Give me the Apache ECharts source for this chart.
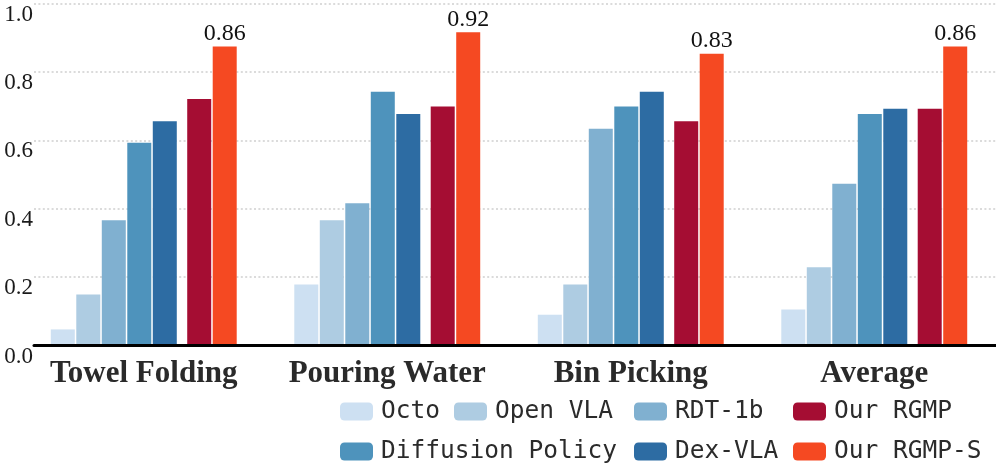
<!DOCTYPE html>
<html>
<head>
<meta charset="utf-8">
<script src="https://cdn.jsdelivr.net/npm/echarts@6/dist/echarts.min.js"></script>
<style>
html,body{margin:0;padding:0;background:#fff;}
#chart{width:996px;height:469px;}
</style>
</head>
<body>
<div id="chart"></div>
<script>
// ---- data ----
const categories = ['Towel Folding', 'Pouring Water', 'Bin Picking', 'Average'];
const octo = [0.047, 0.178, 0.090, 0.105];
const openVLA = [0.149, 0.366, 0.178, 0.229];
const rdt1b = [0.366, 0.416, 0.634, 0.473];
const diffusionPolicy = [0.593, 0.742, 0.699, 0.677];
const dexVLA = [0.656, 0.677, 0.742, 0.692];
const ourRGMP = [0.721, 0.699, 0.656, 0.692];
const ourRGMPS = [0.874, 0.916, 0.853, 0.874];
const rgmpsLabels = ['0.86', '0.92', '0.83', '0.86'];
const yTicks = [0, 0.2, 0.4, 0.6, 0.8, 1.0];

const seriesDefs = [
  { name: 'Octo', data: octo, color: '#cde0f2' },
  { name: 'Open VLA', data: openVLA, color: '#aecce2' },
  { name: 'RDT-1b', data: rdt1b, color: '#80b0d0' },
  { name: 'Diffusion Policy', data: diffusionPolicy, color: '#4e93bc' },
  { name: 'Dex-VLA', data: dexVLA, color: '#2d6ca3' },
  { name: '__gap', data: categories.map(() => null), color: 'rgba(0,0,0,0)', width: 8.4 },
  { name: 'Our RGMP', data: ourRGMP, color: '#a50d33' },
  { name: 'Our RGMP-S', data: ourRGMPS, color: '#f54922', labels: rgmpsLabels }
];

const series = seriesDefs.map(s => {
  const o = {
    name: s.name,
    type: 'bar',
    xAxisIndex: 0,
    yAxisIndex: 0,
    data: s.data,
    barWidth: s.width || 24,
    barGap: '6.25%',
    itemStyle: { color: s.color },
    emphasis: { disabled: true },
    animation: false
  };
  if (s.labels) {
    o.label = {
      show: true,
      position: 'top',
      distance: 1,
      formatter: p => s.labels[p.dataIndex],
      fontFamily: 'Liberation Serif',
      fontSize: 24,
      lineHeight: 24,
      color: '#111'
    };
  }
  return o;
});

// legend item positions (layout only)
const legendPos = [
  ['Octo', 340, 399], ['Open VLA', 454, 399], ['RDT-1b', 634, 399], ['Our RGMP', 793, 399],
  ['Diffusion Policy', 340, 439], ['Dex-VLA', 634, 439], ['Our RGMP-S', 793, 439]
];
const legends = legendPos.map(([name, l, t]) => ({
  data: [name],
  left: l,
  top: t,
  padding: 0,
  itemWidth: 33,
  itemHeight: 18,
  itemStyle: { borderWidth: 0 },
  selectedMode: false,
  textStyle: {
    fontFamily: 'DejaVu Sans Mono',
    fontSize: 24.5,
    lineHeight: 25,
    color: '#2b2b2b',
    padding: [0, 0, 0, 3]
  }
}));

const chart = echarts.init(document.getElementById('chart'), null, { renderer: 'canvas' });
chart.setOption({
  animation: false,
  backgroundColor: '#fff',
  legend: legends,
  grid: [
    { left: 22, width: 980, top: 3.5, bottom: 123.5 },
    { left: 34, right: 0, top: 3.5, bottom: 123.5 }
  ],
  xAxis: [
    {
      type: 'category',
      gridIndex: 0,
      data: categories,
      axisLine: { show: false },
      axisTick: { show: false },
      axisLabel: {
        fontFamily: 'Liberation Serif',
        fontWeight: 'bold',
        fontSize: 31,
        lineHeight: 31,
        color: '#2a2a2a',
        margin: 13,
        interval: 0
      },
      z: 3
    },
    {
      type: 'category',
      gridIndex: 1,
      data: [''],
      axisLine: { show: true, lineStyle: { color: '#000', width: 3 } },
      axisTick: { show: false },
      axisLabel: { show: false },
      z: 5
    }
  ],
  yAxis: [
    {
      type: 'value',
      gridIndex: 0,
      min: 0,
      max: 1,
      interval: 0.2,
      show: false,
      splitLine: { show: false }
    },
    {
      type: 'value',
      gridIndex: 1,
      min: yTicks[0],
      max: yTicks[yTicks.length - 1],
      interval: 0.2,
      axisLine: { show: false },
      axisTick: { show: false },
      splitLine: { show: true, lineStyle: { color: '#cfcfcf', width: 1.6, type: [2, 2.4] } },
      axisLabel: {
        formatter: v => v.toFixed(1),
        fontFamily: 'Liberation Serif',
        fontSize: 23,
        lineHeight: 22,
        verticalAlign: 'top',
        color: '#1a1a1a',
        margin: 1
      }
    }
  ],
  series: series
});
</script>
</body>
</html>
